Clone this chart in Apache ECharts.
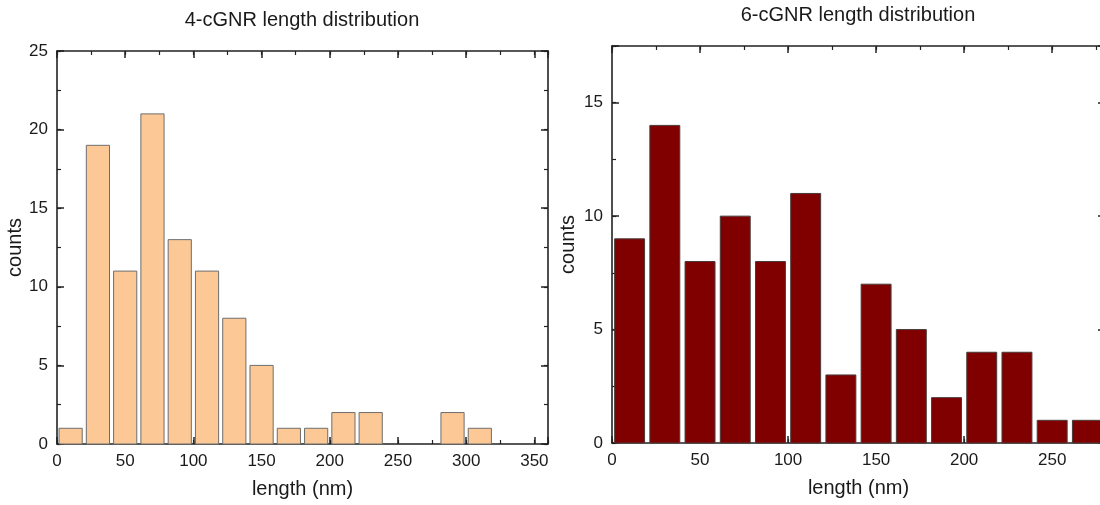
<!DOCTYPE html>
<html>
<head>
<meta charset="utf-8">
<script src="https://cdn.jsdelivr.net/npm/echarts@6/dist/echarts.min.js"></script>
<style>
  html, body { margin: 0; padding: 0; background: #fff; }
  #chart { width: 1100px; height: 505px; }
</style>
</head>
<body>
<div id="chart"></div>
<script>
// 4-cGNR histogram (bin edges in nm, counts per bin)
const binEdges4 = [0, 20, 40, 60, 80, 100, 120, 140, 160, 180, 200, 220, 240, 260, 280, 300, 320];
const counts4 = [1, 19, 11, 21, 13, 11, 8, 5, 1, 1, 2, 2, 0, 0, 2, 1];
// 6-cGNR histogram
const binEdges6 = [0, 20, 40, 60, 80, 100, 120, 140, 160, 180, 200, 220, 240, 260, 280];
const counts6 = [9, 14, 8, 10, 8, 11, 3, 7, 5, 2, 4, 4, 1, 1];

const xTicks4 = [0, 50, 100, 150, 200, 250, 300, 350];
const yTicks4 = [0, 5, 10, 15, 20, 25];
const xTicks6 = [0, 50, 100, 150, 200, 250];
const yTicks6 = [0, 5, 10, 15];

const title4 = '4-cGNR length distribution';
const title6 = '6-cGNR length distribution';

const chart = echarts.init(document.getElementById('chart'));

const FONT = 'Liberation Sans, Arial, sans-serif';
const LINE = '#222';

function toBins(edges, counts) {
  let out = [];
  for (let i = 0; i < counts.length; i++) {
    if (counts[i] > 0) out.push([edges[i], edges[i + 1], counts[i]]);
  }
  return out;
}

// one side of the frame: major axis (labels + ticks) and a minor one (ticks only)
function sideAxes(grid, pos, max, major, minor, ticks, name, nameGap) {
  const base = {
    gridIndex: grid, type: 'value', position: pos, min: 0, max: max,
    splitLine: { show: false }
  };
  const majorAx = Object.assign({}, base, {
    interval: major,
    axisLine: { show: true, onZero: false, lineStyle: { color: LINE, width: 1.6 } },
    axisTick: { show: true, inside: true, length: 7, lineStyle: { color: LINE, width: 1.5 } },
    axisLabel: {
      show: ticks != null, margin: 9, fontFamily: FONT, fontSize: 17, color: '#1a1a1a',
      showMaxLabel: true,
      formatter: function (v) { return ticks && ticks.indexOf(v) >= 0 ? String(v) : ''; }
    }
  });
  if (name) {
    majorAx.name = name;
    majorAx.nameLocation = 'middle';
    majorAx.nameGap = nameGap;
    majorAx.nameTextStyle = { fontFamily: FONT, fontSize: 20, color: '#1a1a1a' };
  }
  const minorAx = Object.assign({}, base, {
    interval: minor,
    axisLine: { show: false, onZero: false },
    axisTick: { show: true, inside: true, length: 4, lineStyle: { color: LINE, width: 1.2 } },
    axisLabel: { show: false }
  });
  return [majorAx, minorAx];
}

const xAxes = [].concat(
  sideAxes(0, 'bottom', 360, 50, 25, xTicks4, 'length (nm)', 35),
  sideAxes(0, 'top', 360, 50, 25, null),
  sideAxes(1, 'bottom', 280, 50, 25, xTicks6, 'length (nm)', 35),
  sideAxes(1, 'top', 280, 50, 25, null)
);
const yAxes = [].concat(
  sideAxes(0, 'left', 25, 5, 2.5, yTicks4, 'counts', 31),
  sideAxes(0, 'right', 25, 5, 2.5, null),
  sideAxes(1, 'left', 17.5, 5, 2.5, yTicks6, 'counts', 34),
  sideAxes(1, 'right', 17.5, 5, 2.5, null)
);

function histSeries(xi, yi, data, fill, stroke) {
  return {
    type: 'custom',
    xAxisIndex: xi,
    yAxisIndex: yi,
    data: data,
    z: 1,
    renderItem: function (params, api) {
      const p0 = api.coord([api.value(0) + 1.5, api.value(2)]);
      const p1 = api.coord([api.value(1) - 1.5, 0]);
      return {
        type: 'rect',
        shape: { x: p0[0], y: p0[1], width: p1[0] - p0[0], height: p1[1] - p0[1] },
        style: { fill: fill, stroke: stroke, lineWidth: 1 }
      };
    }
  };
}

const option = {
  backgroundColor: '#fff',
  animation: false,
  grid: [
    { left: 57, top: 51, width: 491, height: 393, outerBoundsMode: 'none' },
    { left: 612, top: 46, width: 493, height: 397, outerBoundsMode: 'none' }
  ],
  graphic: [
    { type: 'text', x: 302, y: 20, style: { text: title4, font: '20px ' + FONT, fill: '#1a1a1a', textAlign: 'center', textVerticalAlign: 'middle' } },
    { type: 'text', x: 858, y: 15, style: { text: title6, font: '20px ' + FONT, fill: '#1a1a1a', textAlign: 'center', textVerticalAlign: 'middle' } }
  ],
  xAxis: xAxes,
  yAxis: yAxes,
  series: [
    histSeries(0, 0, toBins(binEdges4, counts4), '#fbc896', '#6e6e6e'),
    histSeries(4, 4, toBins(binEdges6, counts6), '#800000', '#4a3a3a')
  ]
};

chart.setOption(option);
</script>
</body>
</html>
